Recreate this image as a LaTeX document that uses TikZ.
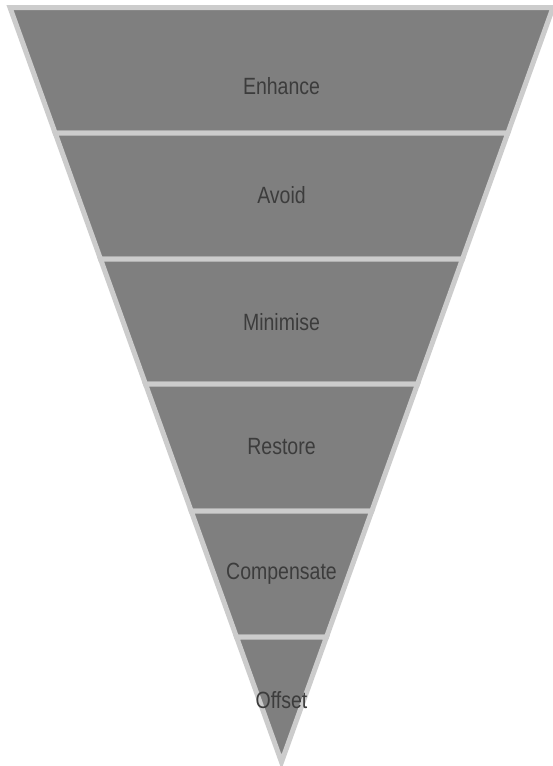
\documentclass[tikz,border=0pt]{standalone}
\usepackage{fontspec}
\newfontfamily\labelfont[FakeStretch=0.83]{Liberation Sans}
\definecolor{bandfill}{HTML}{7F7F7F}
\definecolor{bandline}{HTML}{CCCCCC}
\definecolor{labeltext}{HTML}{3C3C3C}
\tikzset{
  band/.style={fill=bandfill, draw=bandline, line width=5pt},
  bandlabel/.style={text=labeltext, font=\labelfont\fontsize{23.5}{28}\selectfont, inner sep=0pt}
}
\begin{document}
\begin{tikzpicture}[x=1pt,y=-1pt]
  \useasboundingbox (0,0) rectangle (552,766);
  \fill[white] (0,0) rectangle (552,766);
  % edges of the inverted triangle: centre 281.5, apex at 762, top at 7.5
  \def\cx{281.5}
  \def\apex{762}
  \def\k{0.35984}
  \foreach \ya/\yb [count=\i] in {7.5/133, 133/259, 259/384, 384/511, 511/637} {
    \pgfmathsetmacro{\ha}{\k*(\apex-\ya)}
    \pgfmathsetmacro{\hb}{\k*(\apex-\yb)}
    \draw[band] (\cx-\ha,\ya) -- (\cx+\ha,\ya) -- (\cx+\hb,\yb) -- (\cx-\hb,\yb) -- cycle;
  }
  \pgfmathsetmacro{\hl}{\k*(\apex-637)}
  \draw[band] (\cx-\hl,637) -- (\cx+\hl,637) -- (\cx,\apex) -- cycle;
  % labels
  \node[bandlabel] (enhance) at (\cx,86) {Enhance};
  \node[bandlabel] (avoid) at (\cx,195) {Avoid};
  \node[bandlabel] (minimise) at (\cx,322) {Minimise};
  \node[bandlabel] (restore) at (\cx,447) {Restore};
  \node[bandlabel] (compensate) at (\cx,574) {Compensate};
  \node[bandlabel] (offset) at (\cx,700) {Offset};
\end{tikzpicture}
\end{document}
